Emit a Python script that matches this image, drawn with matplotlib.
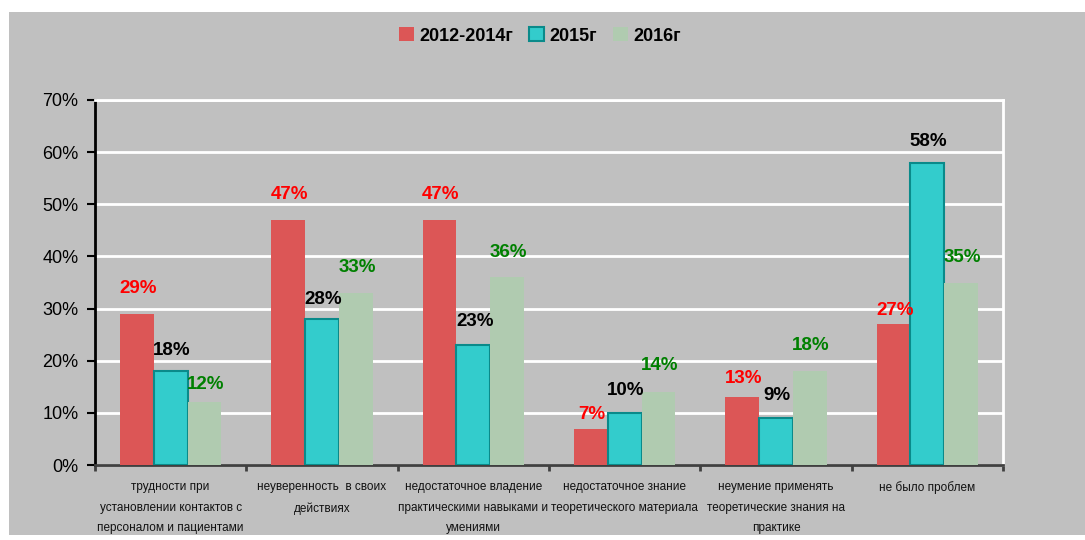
import numpy as np
import matplotlib
matplotlib.use('Agg')
import matplotlib.pyplot as plt
from matplotlib.patches import Rectangle

plt.rcParams['font.family'] = ['Liberation Sans', 'DejaVu Sans']

categories = ["трудности при\nустановлении контактов с\nперсоналом и пациентами",
              "неуверенность  в своих\nдействиях",
              "недостаточное владение\nпрактическими навыками и\nумениями",
              "недостаточное знание\nтеоретического материала",
              "неумение применять\nтеоретические знания на\nпрактике",
              "не было проблем"]
series_names = ["2012-2014г", "2015г", "2016г"]
v_2012_2014 = [29, 47, 47, 7, 13, 27]
v_2015 = [18, 28, 23, 10, 9, 58]
v_2016 = [12, 33, 36, 14, 18, 35]
yticks = [0, 10, 20, 30, 40, 50, 60, 70]

# gap (points) between bar top and its value label, as placed in the original
label_gap = [[12, 12, 12, 4, 7, 4],
             [9, 8, 11, 10, 10, 9],
             [7, 12, 12, 13, 12, 12]]

fill_colors = ['#dc5656', '#33cccc', '#b0cbb0']
edge_colors = ['#dc5656', '#0a8a8a', '#b0cbb0']
label_colors = ['#ff0000', '#000000', '#008000']

fig = plt.figure(figsize=(10.85, 5.4), dpi=100)
fig.patch.set_facecolor('white')
fig.patches.append(Rectangle((9 / 1085, 5 / 540), 1 - 9 / 1085, 1 - 17 / 540,
                             transform=fig.transFigure, facecolor='#c0c0c0',
                             edgecolor='none', zorder=-5))

ax = fig.add_axes([95 / 1085, 1 - 465 / 540, 908 / 1085, 365 / 540])
ax.set_facecolor('#c0c0c0')

x = np.arange(len(categories))
w = 0.223
data = [v_2012_2014, v_2015, v_2016]
for i, vals in enumerate(data):
    pos = x + (i - 1) * w
    lw = 1.5 if i == 1 else 0
    ax.bar(pos, vals, width=w, color=fill_colors[i], edgecolor=edge_colors[i],
           linewidth=lw, label=series_names[i], zorder=3)
    for p, v, g in zip(pos, vals, label_gap[i]):
        ax.annotate(f"{v}%", (p, v), xytext=(1, g), textcoords='offset points',
                    ha='center', va='bottom', fontsize=13.5,
                    fontweight='bold', color=label_colors[i], zorder=4)

ax.set_xlim(-0.5, len(categories) - 0.5)
ax.set_ylim(0, 70)
ax.set_yticks(yticks)
ax.set_yticklabels([f"{t}%" for t in yticks], fontsize=13)
ax.yaxis.grid(True, color='white', linewidth=2, zorder=1)
ax.set_axisbelow(True)

ax.set_xticks(np.arange(len(categories) + 1) - 0.5, minor=False)
ax.set_xticklabels([])
ax.tick_params(axis='x', length=4, width=2, color='#404040', direction='out')
ax.tick_params(axis='y', length=6, width=1.5, color='black', direction='out', pad=6)
for i, c in enumerate(categories):
    ax.text(i, -3.1, c, ha='center', va='top', fontsize=8.5, linespacing=1.95,
            transform=ax.transData, color='#111111')

ax.spines['left'].set_color('black')
ax.spines['left'].set_linewidth(2)
ax.spines['bottom'].set_color('#404040')
ax.spines['bottom'].set_linewidth(2)
ax.spines['right'].set_color('white')
ax.spines['right'].set_linewidth(2)
ax.spines['top'].set_color('white')
ax.spines['top'].set_linewidth(2)

leg = fig.legend(loc='center', bbox_to_anchor=(540 / 1085, 1 - 36 / 540), ncol=3,
                 frameon=False, prop={'weight': 'bold', 'size': 13},
                 handlelength=0.8, handleheight=0.8, handletextpad=0.3,
                 columnspacing=0.9)

fig.savefig('out.png', dpi=100, facecolor=fig.get_facecolor())
